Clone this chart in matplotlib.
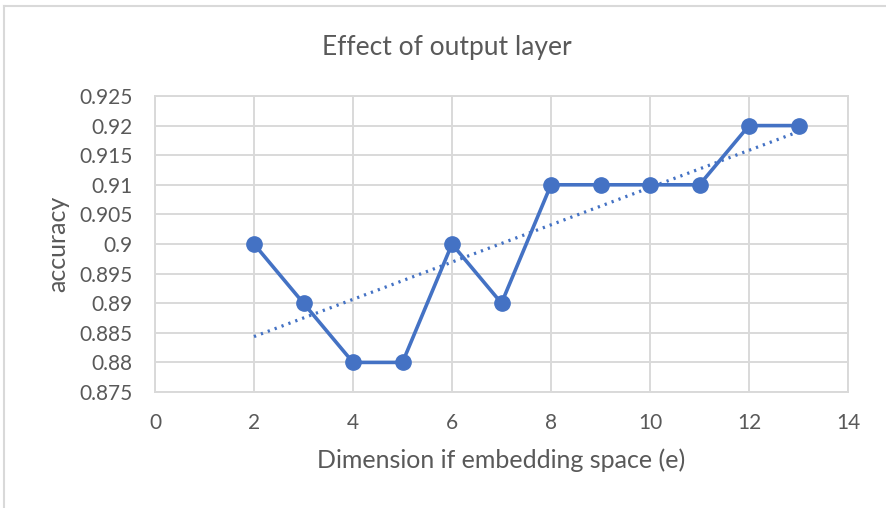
import matplotlib.pyplot as plt
import numpy as np

# data
dims = [2, 3, 4, 5, 6, 7, 8, 9, 10, 11, 12, 13]
acc = [0.90, 0.89, 0.88, 0.88, 0.90, 0.89, 0.91, 0.91, 0.91, 0.91, 0.92, 0.92]
xticks = [0, 2, 4, 6, 8, 10, 12, 14]
yticks = [0.875, 0.88, 0.885, 0.89, 0.895, 0.9, 0.905, 0.91, 0.915, 0.92, 0.925]
ytick_labels = ['0.875', '0.88', '0.885', '0.89', '0.895', '0.9', '0.905',
                '0.91', '0.915', '0.92', '0.925']

plt.rcParams['font.family'] = ['Lato', 'DejaVu Sans']
text_col = '#595959'
blue = '#4472C4'
grid_col = '#D9D9D9'

W, H = 886, 508
fig = plt.figure(figsize=(W / 100, H / 100), dpi=100)
ax = fig.add_axes([155 / W, 1 - 392 / H, (848 - 155) / W, (392 - 96) / H])

ax.plot(dims, acc, color=blue, lw=2.6, marker='o', ms=11, zorder=3)

# linear trendline
k, b = np.polyfit(dims, acc, 1)
tx = np.array([dims[0], dims[-1]])
ax.plot(tx, k * tx + b, color=blue, lw=2.3, ls=(0, (0.7, 1.6)), zorder=2)

ax.set_xlim(0, 14)
ax.set_ylim(0.875, 0.925)
ax.set_xticks(xticks)
ax.set_yticks(yticks)
ax.set_yticklabels(ytick_labels)
ax.grid(True, color=grid_col, lw=1.4)
ax.set_axisbelow(True)
for s in ax.spines.values():
    s.set_color(grid_col)
    s.set_linewidth(1.4)
ax.tick_params(length=0, labelsize=15, colors=text_col)
ax.tick_params(axis='y', pad=16)
ax.tick_params(axis='x', pad=15)

# titles placed in figure pixels like the Excel layout
fig.text(447 / W, 1 - 55 / H, 'Effect of output layer', fontsize=19,
         color=text_col, ha='center', va='baseline')
fig.text(501 / W, 1 - 468 / H, 'Dimension if embedding space (e)', fontsize=18,
         color=text_col, ha='center', va='baseline')
fig.text(58 / W, 1 - 244 / H, 'accuracy', fontsize=18, color=text_col,
         ha='center', va='center', rotation=90)

# chart frame (left and top edges visible)
fig.add_artist(plt.Line2D([4 / W, 4 / W], [0, 1 - 6 / H], color=grid_col, lw=1.5))
fig.add_artist(plt.Line2D([4 / W, 1], [1 - 6 / H, 1 - 6 / H], color=grid_col, lw=1.5))

fig.savefig('out.png', dpi=100)
